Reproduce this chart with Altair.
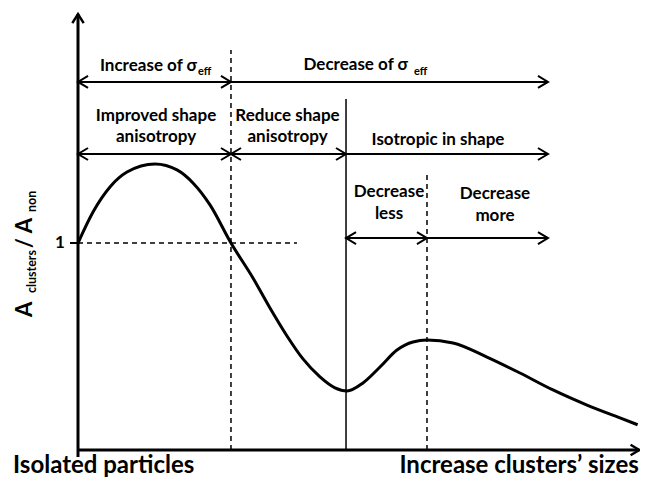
import altair as alt
import pandas as pd

# ---- data (arbitrary schematic units) ----
# x: cluster size along the axis (0 .. 10), y: A_clusters / A_non (1 = reference level)
curve_x = [0, 0.265, 0.564, 0.864, 1.358, 1.746, 2.028, 2.328, 2.698, 3.086, 3.386,
           3.686, 3.968, 4.268, 4.533, 4.744, 5.026, 5.326, 5.626, 5.908, 6.155, 6.614,
           7.213, 7.795, 8.377, 8.977, 9.559, 9.87]
curve_y = [1.000, 1.150, 1.271, 1.343, 1.382, 1.353, 1.290, 1.184, 1.000, 0.831, 0.686,
           0.551, 0.440, 0.353, 0.300, 0.285, 0.324, 0.401, 0.483, 0.522, 0.531, 0.517,
           0.449, 0.372, 0.290, 0.217, 0.155, 0.122]

# region boundaries on the x axis
bounds = [0, 2.698, 4.727, 6.155, 8.289]
# heights of the three rows of arrows
row_y = [1.778, 1.430, 1.024]
# tops of the vertical separators
sep_top = [1.932, 1.696, 1.329]
x_axis_end = 9.90
y_axis_top = 2.106
ref_level = 1.0
ref_line_end = 3.862

# labels
row1_labels = ["Increase of σ", "Decrease of σ"]
row2_labels = [["Improved shape", "anisotropy"], ["Reduce shape", "anisotropy"], ["Isotropic in shape"]]
row3_labels = [["Decrease", "less"], ["Decrease", "more"]]
x_labels = ["Isolated particles", "Increase clusters’ sizes"]
y_tick_labels = ["1"]

# ---- scales covering the whole canvas ----
XMIN, XMAX = -1.2346, 9.9118
YMIN, YMAX = -0.1304, 2.1353
xs = alt.Scale(domain=[XMIN, XMAX], nice=False, zero=False)
ys = alt.Scale(domain=[YMIN, YMAX], nice=False, zero=False)
FONT = "Lato"
LBL = 17


def X(f="x"):
    return alt.X(f"{f}:Q", scale=xs, axis=None)


def Y(f="y"):
    return alt.Y(f"{f}:Q", scale=ys, axis=None)


def rules(df, **kw):
    return alt.Chart(df).mark_rule(color="black", **kw).encode(
        x=X("x"), x2="x2:Q", y=Y("y"), y2="y2:Q")


b0, b1, b2, b3, b4 = bounds
r1, r2, r3 = row_y

axes_df = pd.DataFrame([
    dict(x=0, x2=0, y=-0.034, y2=y_axis_top),
    dict(x=0, x2=x_axis_end, y=0, y2=0),
])
tick_df = pd.DataFrame([dict(x=-0.141, x2=0, y=ref_level, y2=ref_level)])
arrows_df = pd.DataFrame([
    dict(x=b0, x2=b1, y=r1, y2=r1), dict(x=b1, x2=b4, y=r1, y2=r1),
    dict(x=b0, x2=b1, y=r2, y2=r2), dict(x=b1, x2=b2, y=r2, y2=r2), dict(x=b2, x2=b4, y=r2, y2=r2),
    dict(x=b2, x2=b3, y=r3, y2=r3), dict(x=b3, x2=b4, y=r3, y2=r3),
])
solid_df = pd.DataFrame([dict(x=b2, x2=b2, y=0, y2=sep_top[1])])
dashed_df = pd.DataFrame([
    dict(x=b1, x2=b1, y=0, y2=sep_top[0]),
    dict(x=b3, x2=b3, y=0, y2=sep_top[2]),
    dict(x=0, x2=ref_line_end, y=ref_level, y2=ref_level),
])

curve_df = pd.DataFrame({"x": curve_x, "y": curve_y})

right_heads = pd.DataFrame({"x": [b1, b4, b1, b2, b4, b3, b4], "y": [r1, r1, r2, r2, r2, r3, r3]})
left_heads = pd.DataFrame({"x": [b0, b0, b1, b2], "y": [r1, r2, r2, r3]})
xaxis_head = pd.DataFrame({"x": [x_axis_end], "y": [0]})
yaxis_head = pd.DataFrame({"x": [0], "y": [y_axis_top]})

RIGHT = "M -1.67 -1 L 0 0 L -1.67 1"
LEFT = "M 1.67 -1 L 0 0 L 1.67 1"
UP = "M -1 1.6 L 0 0 L 1 1.6"


def heads(df, shape, size, sw):
    return alt.Chart(df).mark_point(shape=shape, size=size, filled=False, color="black",
                                    strokeWidth=sw, opacity=1).encode(x=X(), y=Y())


# texts
center_txt = pd.DataFrame([
    dict(x=1.376, y=1.614, t=row2_labels[0][0]), dict(x=1.376, y=1.512, t=row2_labels[0][1]),
    dict(x=3.695, y=1.614, t=row2_labels[1][0]), dict(x=3.695, y=1.512, t=row2_labels[1][1]),
    dict(x=6.349, y=1.498, t=row2_labels[2][0]),
    dict(x=5.485, y=1.246, t=row3_labels[0][0]), dict(x=5.485, y=1.140, t=row3_labels[0][1]),
    dict(x=7.354, y=1.237, t=row3_labels[1][0]), dict(x=7.354, y=1.130, t=row3_labels[1][1]),
])
right_txt = pd.DataFrame([
    dict(x=2.099, y=1.855, t=row1_labels[0]),
    dict(x=5.820, y=1.860, t=row1_labels[1]),
])
sub_txt = pd.DataFrame([
    dict(x=2.116, y=1.824, t="eff"),
    dict(x=5.926, y=1.824, t="eff"),
])
tick_txt = pd.DataFrame([dict(x=-0.317, y=ref_level, t=y_tick_labels[0])])
bottom_left = pd.DataFrame([dict(x=-1.146, y=-0.111, t=x_labels[0])])
bottom_right = pd.DataFrame([dict(x=9.89, y=-0.111, t=x_labels[1])])
ytitle_main = pd.DataFrame([dict(x=-0.935, y=0.643, t="A"), dict(x=-0.935, y=0.975, t="/ A")])
ytitle_sub = pd.DataFrame([dict(x=-0.815, y=0.758, t="clusters"), dict(x=-0.815, y=1.150, t="non")])


def texts(df, size, align="center", baseline="middle", angle=0):
    return alt.Chart(df).mark_text(font=FONT, fontWeight="bold", fontSize=size, color="black",
                                   align=align, baseline=baseline, angle=angle).encode(
        x=X(), y=Y(), text="t:N")


chart = alt.layer(
    rules(dashed_df, strokeWidth=1.5, strokeDash=[5, 4]),
    rules(solid_df, strokeWidth=1.5),
    rules(arrows_df, strokeWidth=2),
    rules(axes_df, strokeWidth=3),
    rules(tick_df, strokeWidth=2),
    alt.Chart(curve_df).mark_line(color="black", strokeWidth=3, interpolate="monotone").encode(x=X(), y=Y()),
    heads(right_heads, RIGHT, 144, 2),
    heads(left_heads, LEFT, 144, 2),
    heads(xaxis_head, RIGHT, 110, 2.5),
    heads(yaxis_head, UP, 130, 2.5),
    texts(center_txt, LBL),
    texts(right_txt, LBL, align="right"),
    texts(sub_txt, 11, align="left"),
    texts(tick_txt, LBL),
    texts(bottom_left, 24, align="left", baseline="alphabetic"),
    texts(bottom_right, 24, align="right", baseline="alphabetic"),
    texts(ytitle_main, 22, align="left", angle=270),
    texts(ytitle_sub, 12.5, align="left", angle=270),
).properties(
    width=632, height=469, padding=0, autosize=alt.AutoSizeParams(type="none"),
    background="white",
).configure_view(stroke=None)

chart.save("out.html", embed_options={"renderer": "svg", "actions": False})
